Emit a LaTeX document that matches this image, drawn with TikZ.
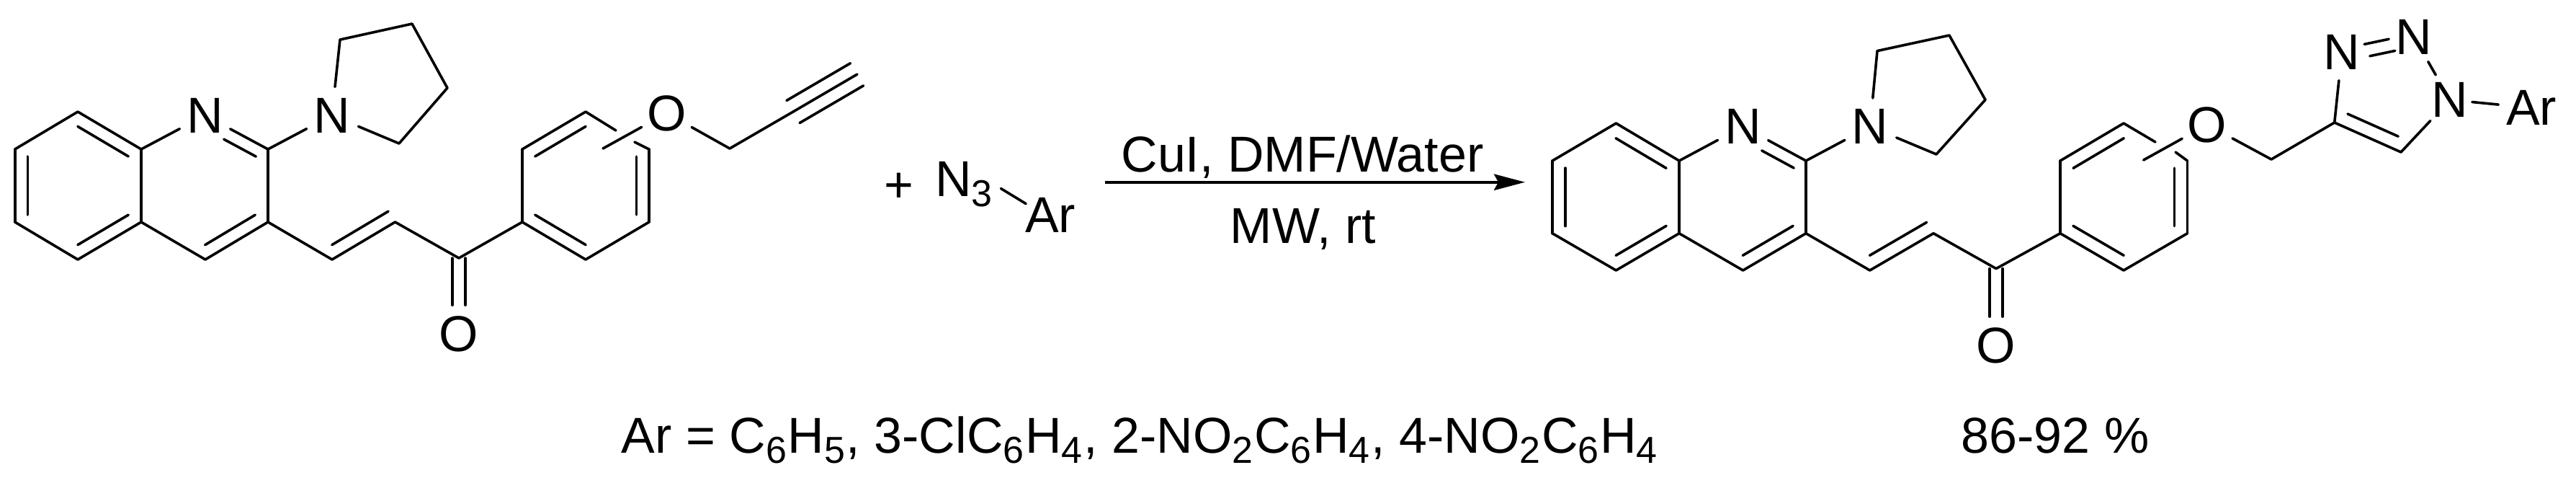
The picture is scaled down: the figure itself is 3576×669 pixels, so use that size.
\documentclass[tikz,border=0pt]{standalone}
\usepackage{fontspec}
\setmainfont{Liberation Sans}
\usetikzlibrary{calc,arrows.meta}
\newcommand{\sbs}[1]{\raisebox{-3.5pt}{\fontsize{13}{13}\selectfont #1}}
\newcommand{\sbk}[1]{\sbs{#1}\kern.42pt}
\newcommand{\dbl}[6]{\draw[bond] ($(#1)!#5!(#2)!#4!#3:(#2)$) -- ($(#1)!#6!(#2)!#4!#3:(#2)$);}
\tikzset{
  bond/.style={line width=.9pt,line cap=round,black},
  atom/.style={circle,inner sep=0pt,minimum size=19.5pt,font=\fontsize{17.5}{21}\selectfont},
  lbl/.style={inner sep=0pt,font=\fontsize{17.5}{21}\selectfont}
}
\begin{document}
\begin{tikzpicture}[x=.25pt,y=-.25pt]
\useasboundingbox (0,0) rectangle (3576,669);
% left molecule
\foreach \n/\x/\y in {a1/108/155,a2/196/207,a3/196/308,a4/108/360,a5/20.7/308,a6/20.7/207,
  c2/372/207,c3/372/308,c4/285/360,ca/461/360,cb/548.5/308,co/637/358,
  p1/725/308,p2/725/207,p3/813/155,p4/901/207,p5/901/308,p6/813/360,
  y1/472/55,y2/572/33,y3/621/122,y4/554/199,
  ch/1013/206,ay/1101/155,az/1190/103,
  lnk/837/206,gp1/855/181,gp2/881/197}
  \coordinate (\n) at (\x,\y);
\node[atom] (n1) at (284.6,160) {N};
\node[atom] (ny) at (460.8,160) {N};
\node[atom] (oe) at (925.5,157) {O};
\node[atom] (ok) at (637,463) {O};
\foreach \u/\v in {a1/a2,a2/a3,a3/a4,a4/a5,a5/a6,a6/a1,a2/n1,n1/c2,c2/c3,c3/c4,c4/a3,c3/ca,ca/cb,cb/co,co/p1,
  p1/p2,p2/p3,p3/gp1,gp2/p4,p4/p5,p5/p6,p6/p1,c2/ny,ny/y1,y1/y2,y2/y3,y3/y4,y4/ny,lnk/oe,oe/ch,ch/ay,ay/az}
  \draw[bond] (\u) -- (\v);
\dbl{a5}{a6}{-90}{4.4pt}{.1}{.9}
\dbl{a1}{a2}{-90}{4.4pt}{.1}{.9}
\dbl{a3}{a4}{-90}{4.4pt}{.1}{.9}
\dbl{n1}{c2}{-90}{4.2pt}{.39}{.9}
\dbl{c3}{c4}{-90}{4.4pt}{.1}{.9}
\dbl{ca}{cb}{90}{4.4pt}{.1}{.995}
\dbl{p2}{p3}{-90}{4.4pt}{.1}{.9}
\dbl{p4}{p5}{-90}{4.4pt}{.1}{.9}
\dbl{p6}{p1}{-90}{4.4pt}{.1}{.9}
\dbl{ay}{az}{90}{4.5pt}{0}{.995}
\dbl{ay}{az}{-90}{4.5pt}{0}{.995}
\draw[bond] ([xshift=-2.25pt]co) -- ([xshift=-2.25pt]ok.north);
\draw[bond] ([xshift=2.25pt]co) -- ([xshift=2.25pt]ok.north);
% reagent
\node[lbl] (plus) at (1248,260) {+};
\node[lbl,anchor=base west] (n3) at (1297.4,272.7) {N\sbs{3}};
\node[lbl] (ar1) at (1458,298.5) {Ar};
\draw[bond] ([xshift=2.75pt,yshift=-1.4pt]n3.east) -- ([xshift=.5pt,yshift=-2.25pt]ar1.north west);
% arrow
\coordinate (as) at (1534,252.7);
\coordinate (ae) at (2117,252.7);
\draw[line width=.9pt,-{Stealth[length=10.75pt,width=5.6pt,inset=1.5pt]}] (as) -- (ae);
\node[lbl,anchor=base] (r1) at (1808,238) {CuI, DMF/Water};
\node[lbl,anchor=base] (r2) at (1809,337) {MW, rt};
% right molecule
\foreach \n/\x/\y in {ra1/2243.4/171,ra2/2331/223,ra3/2331/323.7,ra4/2243.4/375,ra5/2155/323.7,ra6/2155/223,
  rc2/2507/223,rc3/2507/323.7,rc4/2419.6/375,rca/2595.7/375,rcb/2684/323.7,rco/2771/372.6,
  rp1/2860/323.7,rp2/2860/223,rp3/2948/171,rp4/3036.5/223,rp5/3036.5/323.7,rp6/2948/375,
  ry1/2606/70.6,ry2/2706/49,ry3/2756/138.4,ry4/2688/214,
  rch/3153/221,t4/3240.7/170,t5/3333/211,
  rlnk/2975.6/222,rgp1/2992/197,rgp2/3020/211}
  \coordinate (\n) at (\x,\y);
\node[atom] (rn1) at (2419.6,175.6) {N};
\node[atom] (rny) at (2596,175.6) {N};
\node[atom] (roe) at (3064,173) {O};
\node[atom] (rok) at (2771,479) {O};
\node[atom] (tn3) at (3251,72) {N};
\node[atom] (tn2) at (3351,51) {N};
\node[atom] (tn1) at (3401,138.5) {N};
\node[lbl] (ar2) at (3514,149.5) {Ar};
\foreach \u/\v in {ra1/ra2,ra2/ra3,ra3/ra4,ra4/ra5,ra5/ra6,ra6/ra1,ra2/rn1,rn1/rc2,rc2/rc3,rc3/rc4,rc4/ra3,rc3/rca,rca/rcb,rcb/rco,rco/rp1,
  rp1/rp2,rp2/rp3,rp3/rgp1,rgp2/rp4,rp4/rp5,rp5/rp6,rp6/rp1,rc2/rny,rny/ry1,ry1/ry2,ry2/ry3,ry3/ry4,ry4/rny,rlnk/roe,roe/rch,rch/t4,
  t4/t5,t5/tn1,tn1/tn2,t4/tn3}
  \draw[bond] (\u) -- (\v);
\draw[bond,shorten <=-2.2pt,shorten >=2.5pt] (tn1) -- (ar2);
\dbl{ra5}{ra6}{-90}{4.5pt}{.1}{.9}
\dbl{ra1}{ra2}{-90}{4.5pt}{.1}{.9}
\dbl{ra3}{ra4}{-90}{4.5pt}{.1}{.9}
\dbl{rn1}{rc2}{-90}{4.2pt}{.39}{.9}
\dbl{rc3}{rc4}{-90}{4.5pt}{.1}{.9}
\dbl{rca}{rcb}{90}{4.5pt}{.1}{.995}
\dbl{rp2}{rp3}{-90}{4.5pt}{.1}{.9}
\dbl{rp4}{rp5}{-90}{4.5pt}{.1}{.9}
\dbl{rp6}{rp1}{-90}{4.5pt}{.1}{.9}
\dbl{t4}{t5}{90}{4.6pt}{.117}{.878}
\dbl{tn3}{tn2}{90}{1pt}{.32}{.66}
\dbl{tn3}{tn2}{-90}{3.4pt}{.36}{.71}
\draw[bond] ([xshift=-2.25pt]rco) -- ([xshift=-2.25pt]rok.north);
\draw[bond] ([xshift=2.25pt]rco) -- ([xshift=2.25pt]rok.north);
% bottom
\node[lbl,anchor=base west] (sub) at (862,628) {Ar = C\sbk{6}H\sbk{5}, 3-ClC\sbk{6}H\sbk{4}, 2-NO\sbk{2}C\sbk{6}H\sbk{4}, 4-NO\sbk{2}C\sbk{6}H\sbk{4}};
\node[lbl,anchor=base west] (yld) at (2722,628) {86-92 \%};
\end{tikzpicture}
\end{document}
